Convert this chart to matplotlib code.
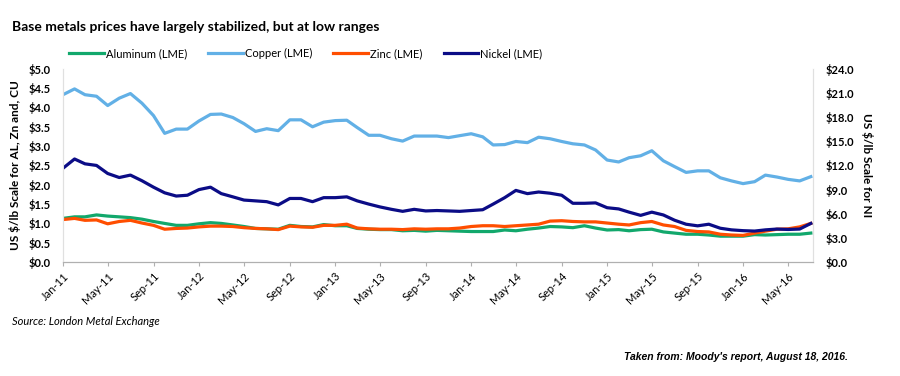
import matplotlib.pyplot as plt
import matplotlib.dates as mdates
import pandas as pd

plt.rcParams['font.family'] = ['Lato', 'DejaVu Sans']

months = pd.date_range('2011-01-01', '2016-07-01', freq='MS')

aluminum = [1.13, 1.17, 1.17, 1.22, 1.19, 1.17, 1.15, 1.11, 1.05, 1.00, 0.95, 0.95, 0.99, 1.02, 1.00, 0.96, 0.92,
            0.87, 0.86, 0.85, 0.95, 0.92, 0.91, 0.97, 0.94, 0.94, 0.87, 0.85, 0.84, 0.84, 0.81, 0.82, 0.80, 0.82,
            0.81, 0.80, 0.79, 0.79, 0.79, 0.83, 0.81, 0.85, 0.88, 0.92, 0.91, 0.89, 0.94, 0.88, 0.83, 0.84, 0.81,
            0.84, 0.85, 0.78, 0.75, 0.72, 0.72, 0.70, 0.67, 0.67, 0.67, 0.71, 0.70, 0.71, 0.72, 0.72, 0.75]
copper = [4.33, 4.48, 4.33, 4.29, 4.05, 4.24, 4.36, 4.11, 3.79, 3.33, 3.44, 3.44, 3.65, 3.82, 3.83, 3.74, 3.58,
          3.38, 3.45, 3.40, 3.68, 3.68, 3.50, 3.62, 3.66, 3.67, 3.48, 3.28, 3.28, 3.19, 3.13, 3.26, 3.26, 3.26,
          3.22, 3.27, 3.32, 3.24, 3.03, 3.04, 3.12, 3.09, 3.23, 3.19, 3.12, 3.06, 3.03, 2.90, 2.64, 2.59, 2.70,
          2.75, 2.88, 2.62, 2.47, 2.32, 2.36, 2.36, 2.18, 2.10, 2.03, 2.08, 2.25, 2.20, 2.14, 2.10, 2.21]
zinc = [1.10, 1.13, 1.08, 1.09, 0.99, 1.05, 1.08, 1.01, 0.95, 0.85, 0.87, 0.88, 0.91, 0.93, 0.93, 0.92, 0.89,
        0.87, 0.86, 0.84, 0.93, 0.91, 0.90, 0.95, 0.95, 0.98, 0.88, 0.86, 0.85, 0.85, 0.84, 0.86, 0.85, 0.86,
        0.86, 0.88, 0.92, 0.94, 0.94, 0.92, 0.94, 0.96, 0.98, 1.06, 1.07, 1.05, 1.04, 1.04, 1.01, 0.98, 0.96,
        1.02, 1.05, 0.96, 0.92, 0.82, 0.79, 0.78, 0.72, 0.70, 0.69, 0.75, 0.80, 0.85, 0.86, 0.91, 1.00]
nickel = [11.65, 12.8, 12.2, 12.0, 11.0, 10.5, 10.8, 10.1, 9.3, 8.6, 8.2, 8.3, 9.0, 9.3, 8.5, 8.1, 7.7,
          7.6, 7.5, 7.1, 7.9, 7.9, 7.5, 8.0, 8.0, 8.1, 7.6, 7.2, 6.85, 6.55, 6.3, 6.55, 6.35, 6.4,
          6.35, 6.3, 6.4, 6.5, 7.2, 8.0, 8.9, 8.5, 8.7, 8.55, 8.3, 7.3, 7.3, 7.35, 6.75, 6.6, 6.2,
          5.8, 6.2, 5.85, 5.2, 4.7, 4.5, 4.7, 4.2, 4.0, 3.9, 3.85, 4.0, 4.1, 4.05, 4.1, 4.8]

fig = plt.figure(figsize=(9, 3.76), dpi=100)
ax = fig.add_axes([0.07, 0.303, 0.833, 0.514])
ax2 = ax.twinx()

lw = 2.3
l1, = ax.plot(months, aluminum, color='#12A86C', lw=lw, label='Aluminum (LME)')
l2, = ax.plot(months, copper, color='#62B0E6', lw=lw, label='Copper (LME)')
l3, = ax.plot(months, zinc, color='#FF4E00', lw=lw, label='Zinc (LME)')
l4, = ax2.plot(months, nickel, color='#0B0C86', lw=lw, label='Nickel (LME)')

ax.set_ylim(0, 5)
ax2.set_ylim(0, 24)
ax.set_yticks([i * 0.5 for i in range(11)])
ax2.set_yticks([i * 3 for i in range(9)])
ax.yaxis.set_major_formatter(lambda v, p: f'${v:.1f}')
ax2.yaxis.set_major_formatter(lambda v, p: f'${v:.1f}')
ax.set_xlim(months[0], months[-1] + pd.Timedelta(days=5))

ax.xaxis.set_major_locator(mdates.MonthLocator(bymonth=[1, 5, 9]))
ax.xaxis.set_major_formatter(mdates.DateFormatter('%b-%y'))
for lab in ax.get_xticklabels():
    lab.set_rotation(45)
    lab.set_ha('right')
    lab.set_rotation_mode('anchor')

ax.tick_params(axis='y', length=0, pad=9, labelsize=8)
ax2.tick_params(axis='y', length=0, pad=9, labelsize=8)
ax.tick_params(axis='x', length=3, color='#B0B0B0', labelsize=8, pad=3)
for lab in ax.get_yticklabels() + ax2.get_yticklabels():
    lab.set_fontweight('bold')

for a in (ax, ax2):
    a.spines['top'].set_visible(False)
    a.spines['left'].set_color('#E0E0E0')
    a.spines['right'].set_color('#E0E0E0')
    a.spines['bottom'].set_color('#B0B0B0')

ax.set_ylabel('US $/lb Scale for AL, Zn and, CU', fontsize=8.5, labelpad=5, fontweight='bold')
ax2.set_ylabel('US $/lb Scale for NI', fontsize=8.5, rotation=270, labelpad=14, fontweight='bold')

fig.legend(handles=[l1, l2, l3, l4], loc='center left', bbox_to_anchor=(0.077, 0.858), ncol=4,
           frameon=False, fontsize=8, handlelength=3.1, columnspacing=1.9, handletextpad=0.2,
           borderpad=0, borderaxespad=0)

fig.text(0.013, 0.928, 'Base metals prices have largely stabilized, but at low ranges',
         fontsize=10, fontweight='bold', va='center')
fig.text(0.013, 0.146, 'Source: London Metal Exchange', fontsize=8, style='italic', va='center')
fig.text(0.942, 0.05, "Taken from: Moody's report, August 18, 2016.", fontsize=7.5,
         family='Liberation Sans', style='italic', fontweight='bold', ha='right', va='center')

plt.savefig('out.png', dpi=100)
